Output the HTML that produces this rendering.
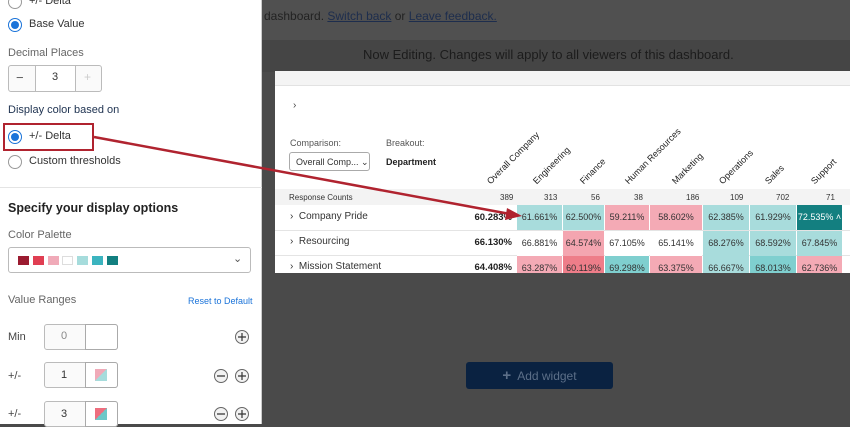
<!DOCTYPE html>
<html><head><style>
*{box-sizing:border-box;margin:0;padding:0}
body{width:850px;height:424px;overflow:hidden;position:relative;background:#4a4a4a;font-family:"Liberation Sans",sans-serif;}
.abs{position:absolute}
.lp{left:0;top:0;width:262px;height:424px;background:#fff;border-right:1px solid #ccc}
.t{position:absolute;white-space:nowrap}
.radio{position:absolute;width:14px;height:14px;border-radius:50%;border:1px solid #999;background:#fff}
.radio.on{border:1.5px solid #1a73d9}
.radio.on::after{content:"";position:absolute;left:2px;top:2px;width:8px;height:8px;border-radius:50%;background:#1a73d9}
.box{position:absolute;border:1px solid #bbb;border-radius:3px;background:#fafafa}
.cell{position:absolute;font-size:9px;color:#333;text-align:center;line-height:25px;height:25px}
.hd{position:absolute;font-size:9px;color:#222;transform-origin:left bottom;transform:rotate(-45deg);white-space:nowrap}
.bv{position:absolute;width:60px;left:452px;text-align:right;font-size:9.5px;font-weight:bold;color:#222}
</style></head><body>
<div class="abs" style="left:262px;top:0;width:588px;height:40px;background:#505050"></div>
<div class="abs" style="left:262px;top:40px;width:588px;height:32px;background:#454545"></div>
<div class="t" style="left:264px;top:9px;font-size:12px;color:#222">dashboard. <span style="text-decoration:underline;color:#1d2d4d">Switch back</span> or <span style="text-decoration:underline;color:#1d2d4d">Leave feedback.</span></div>
<div class="t" style="left:363px;top:47px;font-size:13px;color:#1c1c1c">Now Editing. Changes will apply to all viewers of this dashboard.</div>
<div class="abs" style="left:275px;top:71px;width:575px;height:202px;background:#fff"></div>
<div class="abs" style="left:275px;top:71px;width:575px;height:15px;background:#f4f4f4;border-bottom:1px solid #e2e2e2"></div>
<div class="t" style="left:293px;top:100px;font-size:10px;color:#444">›</div>
<div class="t" style="left:290px;top:138px;font-size:9px;color:#555">Comparison:</div>
<div class="t" style="left:386px;top:138px;font-size:9px;color:#555">Breakout:</div>
<div class="abs" style="left:289px;top:152px;width:81px;height:19px;border:1px solid #aaa;border-radius:3px;font-size:9px;color:#333;padding:4px 6px;white-space:nowrap">Overall Comp... ⌄</div>
<div class="t" style="left:386px;top:157px;font-size:9px;font-weight:bold;color:#222">Department</div>
<div class="hd" style="left:492px;top:176px">Overall Company</div>
<div class="hd" style="left:538px;top:176px">Engineering</div>
<div class="hd" style="left:585px;top:176px">Finance</div>
<div class="hd" style="left:630px;top:176px">Human Resources</div>
<div class="hd" style="left:677px;top:176px">Marketing</div>
<div class="hd" style="left:724px;top:176px">Operations</div>
<div class="hd" style="left:770px;top:176px">Sales</div>
<div class="hd" style="left:816px;top:176px">Support</div>
<div class="abs" style="left:275px;top:189px;width:575px;height:16px;background:#f3f3f3"></div>
<div class="t" style="left:289px;top:193px;font-size:8px;color:#333">Response Counts</div>
<div class="t" style="left:500px;top:193px;font-size:8px;color:#333">389</div>
<div class="t" style="left:544px;top:193px;font-size:8px;color:#333">313</div>
<div class="t" style="left:591px;top:193px;font-size:8px;color:#333">56</div>
<div class="t" style="left:634px;top:193px;font-size:8px;color:#333">38</div>
<div class="t" style="left:686px;top:193px;font-size:8px;color:#333">186</div>
<div class="t" style="left:730px;top:193px;font-size:8px;color:#333">109</div>
<div class="t" style="left:776px;top:193px;font-size:8px;color:#333">702</div>
<div class="t" style="left:826px;top:193px;font-size:8px;color:#333">71</div>
<div class="abs" style="left:275px;top:230px;width:575px;height:1px;background:#e4e4e4"></div>
<div class="abs" style="left:275px;top:255px;width:575px;height:1px;background:#e4e4e4"></div>
<div class="t" style="left:290px;top:211px;font-size:10px;color:#333">›&nbsp;&nbsp;Company Pride</div>
<div class="t" style="left:290px;top:236px;font-size:10px;color:#333">›&nbsp;&nbsp;Resourcing</div>
<div class="t" style="left:290px;top:261px;font-size:10px;color:#333">›&nbsp;&nbsp;Mission Statement</div>
<div class="bv" style="top:212px">60.283%</div>
<div class="bv" style="top:237px">66.130%</div>
<div class="bv" style="top:262px">64.408%</div>
<div id="cells"></div>
<div class="abs" style="left:466px;top:362px;width:147px;height:27px;background:#0a2241;border-radius:3px;color:#5c6f88;font-size:12px;line-height:27px;text-align:center"><b style="font-size:15px">+</b>&nbsp; Add widget</div>
<div class="abs lp"></div>
<div class="radio" style="left:8px;top:-5px"></div>
<div class="t" style="left:29px;top:-5px;font-size:11px;color:#333">+/- Delta</div>
<div class="radio on" style="left:8px;top:18px"></div>
<div class="t" style="left:29px;top:18px;font-size:11px;color:#333">Base Value</div>
<div class="t" style="left:8px;top:47px;font-size:11px;color:#666">Decimal Places</div>
<div class="box" style="left:8px;top:65px;width:94px;height:27px"></div>
<div class="abs" style="left:35px;top:65px;width:41px;height:27px;border:1px solid #bbb;background:#fff"></div>
<div class="t" style="left:16px;top:70px;font-size:13px;color:#555">−</div>
<div class="t" style="left:52px;top:71px;font-size:11px;color:#333">3</div>
<div class="t" style="left:84px;top:70px;font-size:12px;color:#ccc">+</div>
<div class="t" style="left:8px;top:104px;font-size:11px;color:#1e3250">Display color based on</div>
<div class="radio on" style="left:8px;top:130px"></div>
<div class="t" style="left:29px;top:130px;font-size:11px;color:#333">+/- Delta</div>
<div class="abs" style="left:3px;top:123px;width:91px;height:28px;border:2.5px solid #b0232f"></div>
<div class="radio" style="left:8px;top:155px"></div>
<div class="t" style="left:29px;top:155px;font-size:11px;color:#333">Custom thresholds</div>
<div class="abs" style="left:0;top:187px;width:262px;height:1px;background:#e4e4e4"></div>
<div class="t" style="left:8px;top:201px;font-size:12.5px;font-weight:bold;color:#222">Specify your display options</div>
<div class="t" style="left:8px;top:229px;font-size:11px;color:#666">Color Palette</div>
<div class="box" style="left:8px;top:247px;width:243px;height:26px;background:#fff"></div>
<div class="abs" style="left:18px;top:256px;width:11px;height:9px;background:#9b1b30"></div>
<div class="abs" style="left:33px;top:256px;width:11px;height:9px;background:#e03e52"></div>
<div class="abs" style="left:48px;top:256px;width:11px;height:9px;background:#f0aab8"></div>
<div class="abs" style="left:62px;top:256px;width:11px;height:9px;background:#fff;border:1px solid #ddd"></div>
<div class="abs" style="left:77px;top:256px;width:11px;height:9px;background:#a6dcdc"></div>
<div class="abs" style="left:92px;top:256px;width:11px;height:9px;background:#3bb4bf"></div>
<div class="abs" style="left:107px;top:256px;width:11px;height:9px;background:#127f80"></div>
<div class="t" style="left:233px;top:252px;font-size:11px;color:#555">⌄</div>
<div class="t" style="left:8px;top:294px;font-size:11px;color:#666">Value Ranges</div>
<div class="t" style="left:188px;top:296px;font-size:9px;color:#1a73d9">Reset to Default</div>
<div class="t" style="left:8px;top:331px;font-size:11px;color:#444">Min</div>
<div class="box" style="left:44px;top:324px;width:74px;height:26px"></div>
<div class="abs" style="left:85px;top:324px;width:33px;height:26px;border:1px solid #aaa;border-radius:0 3px 3px 0;background:#fff"></div>
<div class="t" style="left:61px;top:330px;font-size:11px;color:#888">0</div>
<div class="t" style="left:8px;top:370px;font-size:11px;color:#444">+/-</div>
<div class="box" style="left:44px;top:362px;width:74px;height:26px"></div>
<div class="abs" style="left:85px;top:362px;width:33px;height:26px;border:1px solid #aaa;border-radius:0 3px 3px 0;background:#fff"></div>
<div class="abs" style="left:95px;top:369px;width:12px;height:12px;background:linear-gradient(135deg,#f0aab8 50%,#a6dcdc 50%)"></div>
<div class="t" style="left:61px;top:369px;font-size:11px;color:#333">1</div>
<div class="t" style="left:8px;top:408px;font-size:11px;color:#444">+/-</div>
<div class="box" style="left:44px;top:401px;width:74px;height:26px"></div>
<div class="abs" style="left:85px;top:401px;width:33px;height:26px;border:1px solid #aaa;border-radius:0 3px 3px 0;background:#fff"></div>
<div class="abs" style="left:95px;top:408px;width:12px;height:12px;background:linear-gradient(135deg,#ee6e7e 50%,#6cc8c8 50%)"></div>
<div class="t" style="left:61px;top:408px;font-size:11px;color:#333">3</div>
<svg class="abs" style="left:0;top:0" width="262" height="424">
<g fill="#f2f2f2" stroke="#666" stroke-width="1">
<circle cx="242" cy="337" r="6.5"/><circle cx="221" cy="376" r="6.5"/><circle cx="242" cy="376" r="6.5"/><circle cx="221" cy="414" r="6.5"/><circle cx="242" cy="414" r="6.5"/></g>
<g stroke="#333" stroke-width="1.2"><path d="M238 337h8M242 333v8M238 376h8M242 372v8M217 376h8M238 414h8M242 410v8M217 414h8"/></g>
</svg>
<svg class="abs" style="left:0;top:0" width="850" height="424">
<line x1="94" y1="137" x2="510" y2="214" stroke="#b0232f" stroke-width="2.5"/>
<polygon points="522,216 507,208 505,220" fill="#b0232f"/>
</svg>
<script>
var cols=[517,563,605,650,703,750,797,843];
var rows=[[205,["61.661%","#a8dcdc"],["62.500%","#a8dcdc"],["59.211%","#f4aab5"],["58.602%","#f4aab5"],["62.385%","#a8dcdc"],["61.929%","#a8dcdc"],["72.535% ˄","#137f80","#fff"]],
[231,["66.881%","#fff"],["64.574%","#f4a5b0"],["67.105%","#fff"],["65.141%","#fff"],["68.276%","#a8dcdc"],["68.592%","#a8dcdc"],["67.845%","#a8dcdc"]],
[256,["63.287%","#f4aab5"],["60.119%","#ee7d89"],["69.298%","#7fcfcf"],["63.375%","#f4aab5"],["66.667%","#a8dcdc"],["68.013%","#7fcfcf"],["62.736%","#f4aab5"]]];
var h="";rows.forEach(function(r){for(var i=0;i<7;i++){var c=r[i+1];var hh=r[0]==256?17:25;h+='<div class="cell" style="left:'+cols[i]+'px;top:'+r[0]+'px;width:'+(cols[i+1]-cols[i]-1)+'px;height:'+hh+'px;background:'+c[1]+';color:'+(c[2]||'#333')+'">'+c[0]+'</div>';}});
document.getElementById("cells").innerHTML=h;
</script>
</body></html>
